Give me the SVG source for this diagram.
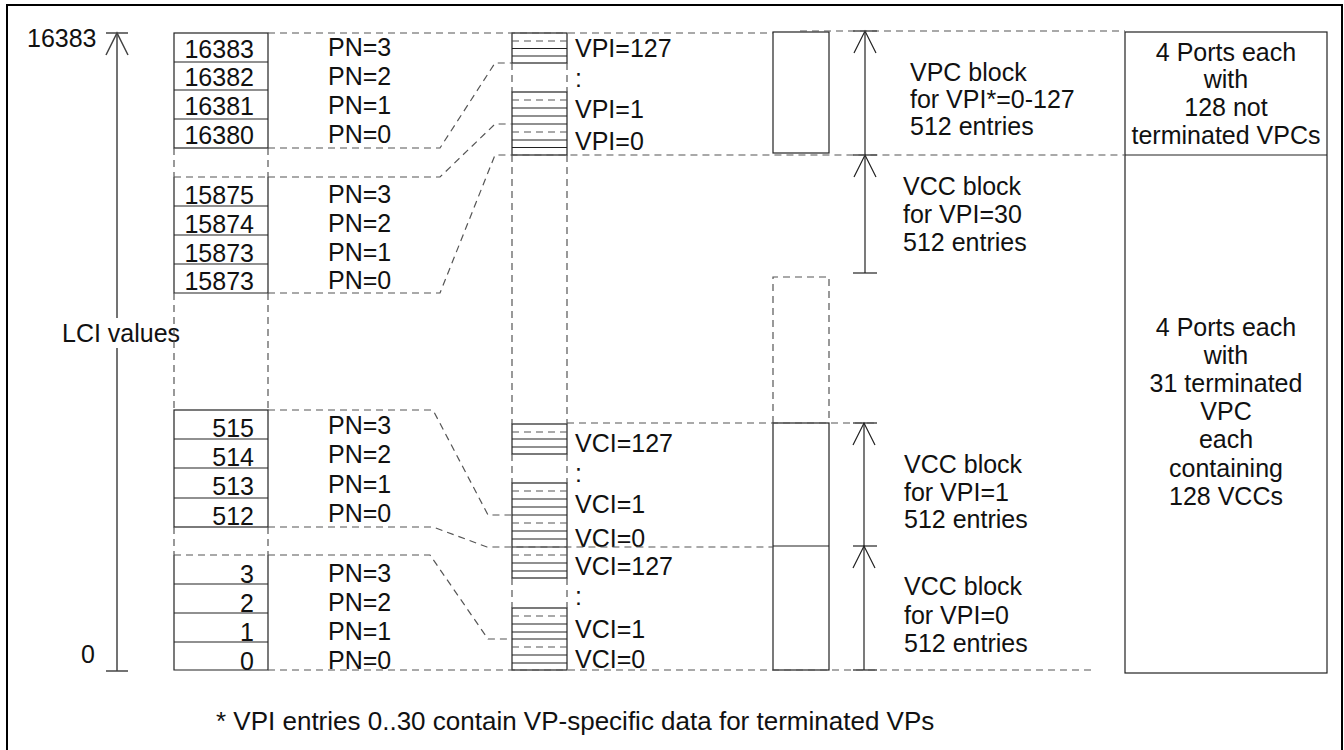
<svg xmlns="http://www.w3.org/2000/svg" width="1344" height="750" viewBox="0 0 1344 750">
<style>
text{font-family:"Liberation Sans",Arial,sans-serif;font-size:25px;fill:#111}
.s{stroke:#222;stroke-width:1.2;fill:none}
.d{stroke:#555;stroke-width:1.2;fill:none;stroke-dasharray:7 5}
.ax{stroke:#444;stroke-width:1.5;fill:none}
.e{text-anchor:end}
.m{text-anchor:middle}
</style>
<rect x="7" y="5" width="1335" height="770" fill="#fff" stroke="#000" stroke-width="2"/>

<g id="axis">
<line class="ax" x1="117" y1="33" x2="117" y2="671"/>
<polyline class="ax" points="106,55 117,33 128,55"/>
<line class="ax" x1="106" y1="33" x2="128" y2="33"/>
<line class="ax" x1="106" y1="671" x2="128" y2="671"/>
<text x="27" y="47">16383</text>
<text x="81" y="663">0</text>
<rect x="60" y="318" width="122" height="30" fill="#fff"/>
<text x="62" y="342">LCI values</text>
</g>

<g id="block-16380">
<rect class="s" x="174" y="33" width="94" height="115"/>
<line class="s" x1="174" y1="62" x2="268" y2="62"/>
<line class="s" x1="174" y1="90" x2="268" y2="90"/>
<line class="s" x1="174" y1="119" x2="268" y2="119"/>
<text class="e" x="254" y="58">16383</text>
<text class="e" x="254" y="86">16382</text>
<text class="e" x="254" y="115">16381</text>
<text class="e" x="254" y="144">16380</text>
<text x="328" y="56">PN=3</text>
<text x="328" y="85">PN=2</text>
<text x="328" y="114">PN=1</text>
<text x="328" y="143">PN=0</text>
</g>

<g id="block-15872">
<polyline class="s" points="174,177 174,293 268,293 268,177"/>
<line class="d" x1="174" y1="177" x2="268" y2="177"/>
<line class="s" x1="174" y1="206" x2="268" y2="206"/>
<line class="s" x1="174" y1="235" x2="268" y2="235"/>
<line class="s" x1="174" y1="264" x2="268" y2="264"/>
<text class="e" x="254" y="204">15875</text>
<text class="e" x="254" y="233">15874</text>
<text class="e" x="254" y="262">15873</text>
<text class="e" x="254" y="290">15873</text>
<text x="328" y="203">PN=3</text>
<text x="328" y="232">PN=2</text>
<text x="328" y="261">PN=1</text>
<text x="328" y="289">PN=0</text>
</g>

<g id="block-512">
<rect class="s" x="174" y="410" width="94" height="117"/>
<line class="s" x1="174" y1="439" x2="268" y2="439"/>
<line class="s" x1="174" y1="468" x2="268" y2="468"/>
<line class="s" x1="174" y1="498" x2="268" y2="498"/>
<text class="e" x="254" y="437">515</text>
<text class="e" x="254" y="466">514</text>
<text class="e" x="254" y="495">513</text>
<text class="e" x="254" y="525">512</text>
<text x="328" y="434">PN=3</text>
<text x="328" y="463">PN=2</text>
<text x="328" y="493">PN=1</text>
<text x="328" y="522">PN=0</text>
</g>

<g id="block-0">
<polyline class="s" points="174,555 174,670 268,670 268,555"/>
<line class="d" x1="174" y1="555" x2="268" y2="555"/>
<line class="s" x1="174" y1="584" x2="268" y2="584"/>
<line class="s" x1="174" y1="613" x2="268" y2="613"/>
<line class="s" x1="174" y1="642" x2="268" y2="642"/>
<text class="e" x="254" y="583">3</text>
<text class="e" x="254" y="612">2</text>
<text class="e" x="254" y="641">1</text>
<text class="e" x="254" y="670">0</text>
<text x="328" y="582">PN=3</text>
<text x="328" y="611">PN=2</text>
<text x="328" y="640">PN=1</text>
<text x="328" y="669">PN=0</text>
</g>

<g id="vpi-table">
<rect class="s" x="512" y="33" width="55" height="30"/>
<line class="d" x1="512" y1="41" x2="567" y2="41"/>
<line class="s" x1="512" y1="48.5" x2="567" y2="48.5"/>
<line class="s" x1="512" y1="56" x2="567" y2="56"/>
<rect class="s" x="512" y="92" width="55" height="63"/>
<line class="d" x1="512" y1="100" x2="567" y2="100"/>
<line class="s" x1="512" y1="108" x2="567" y2="108"/>
<line class="s" x1="512" y1="116" x2="567" y2="116"/>
<line class="s" x1="512" y1="124" x2="567" y2="124"/>
<line class="d" x1="512" y1="132" x2="567" y2="132"/>
<line class="s" x1="512" y1="140" x2="567" y2="140"/>
<line class="s" x1="512" y1="147.5" x2="567" y2="147.5"/>
<text x="575" y="57">VPI=127</text>
<text x="575" y="87">:</text>
<text x="575" y="118">VPI=1</text>
<text x="575" y="150">VPI=0</text>
</g>

<g id="vci-table">
<rect class="s" x="512" y="424" width="55" height="30"/>
<line class="d" x1="512" y1="432" x2="567" y2="432"/>
<line class="s" x1="512" y1="439" x2="567" y2="439"/>
<line class="s" x1="512" y1="447" x2="567" y2="447"/>
<rect class="s" x="512" y="483" width="55" height="95"/>
<line class="d" x1="512" y1="491" x2="567" y2="491"/>
<line class="s" x1="512" y1="499" x2="567" y2="499"/>
<line class="s" x1="512" y1="507" x2="567" y2="507"/>
<line class="s" x1="512" y1="515" x2="567" y2="515"/>
<line class="d" x1="512" y1="523" x2="567" y2="523"/>
<line class="s" x1="512" y1="531" x2="567" y2="531"/>
<line class="s" x1="512" y1="539" x2="567" y2="539"/>
<line class="s" x1="512" y1="547" x2="567" y2="547"/>
<line class="d" x1="512" y1="555" x2="567" y2="555"/>
<line class="s" x1="512" y1="563" x2="567" y2="563"/>
<line class="s" x1="512" y1="571" x2="567" y2="571"/>
<rect class="s" x="512" y="608" width="55" height="62"/>
<line class="d" x1="512" y1="616" x2="567" y2="616"/>
<line class="s" x1="512" y1="624" x2="567" y2="624"/>
<line class="s" x1="512" y1="632" x2="567" y2="632"/>
<line class="s" x1="512" y1="639" x2="567" y2="639"/>
<line class="d" x1="512" y1="647" x2="567" y2="647"/>
<line class="s" x1="512" y1="655" x2="567" y2="655"/>
<line class="s" x1="512" y1="663" x2="567" y2="663"/>
<text x="575" y="452">VCI=127</text>
<text x="575" y="482">:</text>
<text x="575" y="513">VCI=1</text>
<text x="575" y="547">VCI=0</text>
<text x="575" y="575">VCI=127</text>
<text x="575" y="605">:</text>
<text x="575" y="638">VCI=1</text>
<text x="575" y="668">VCI=0</text>
</g>

<g id="memory-blocks">
<rect class="s" x="773" y="32" width="56" height="121"/>
<polyline class="d" points="773,423 773,277 829,277 829,423"/>
<rect class="s" x="773" y="423" width="56" height="247"/>
<line class="s" x1="773" y1="546" x2="829" y2="546"/>
</g>

<g id="vpc-block-label">
<text x="910" y="81">VPC block</text>
<text x="910" y="108">for VPI*=0-127</text>
<text x="910" y="135">512 entries</text>
</g>
<g id="vcc30-label">
<text x="903" y="195">VCC block</text>
<text x="903" y="223">for VPI=30</text>
<text x="903" y="251">512 entries</text>
</g>
<g id="vcc1-label">
<text x="904" y="473">VCC block</text>
<text x="904" y="501">for VPI=1</text>
<text x="904" y="528">512 entries</text>
</g>
<g id="vcc0-label">
<text x="904" y="595">VCC block</text>
<text x="904" y="624">for VPI=0</text>
<text x="904" y="652">512 entries</text>
</g>

<g id="ports-box">
<rect class="s" x="1125" y="32" width="202" height="641"/>
<line class="s" x1="1125" y1="155" x2="1327" y2="155"/>
<text class="m" x="1226" y="61">4 Ports each</text>
<text class="m" x="1226" y="88">with</text>
<text class="m" x="1226" y="116">128 not</text>
<text class="m" x="1226" y="144">terminated VPCs</text>
<text class="m" x="1226" y="336">4 Ports each</text>
<text class="m" x="1226" y="364">with</text>
<text class="m" x="1226" y="392">31 terminated</text>
<text class="m" x="1226" y="420">VPC</text>
<text class="m" x="1226" y="448">each</text>
<text class="m" x="1226" y="477">containing</text>
<text class="m" x="1226" y="505">128 VCCs</text>
</g>

<g id="dimension-arrows">
<line class="s" x1="865" y1="31" x2="865" y2="155"/>
<polyline class="s" points="854,53 865,31 876,53"/>
<line class="s" x1="865" y1="155" x2="865" y2="273"/>
<polyline class="s" points="854,177 865,155 876,177"/>
<line class="s" x1="864" y1="423" x2="864" y2="546"/>
<polyline class="s" points="853,445 864,423 875,445"/>
<line class="s" x1="864" y1="546" x2="864" y2="670"/>
<polyline class="s" points="853,568 864,546 875,568"/>
<line class="s" x1="853" y1="31" x2="877" y2="31"/>
<line class="s" x1="853" y1="155" x2="877" y2="155"/>
<line class="s" x1="853" y1="273" x2="877" y2="273"/>
<line class="s" x1="853" y1="423" x2="877" y2="423"/>
<line class="s" x1="853" y1="546" x2="877" y2="546"/>
<line class="s" x1="853" y1="670" x2="877" y2="670"/>
</g>

<g id="connectors">
<line class="d" x1="268" y1="33" x2="773" y2="33"/>
<line class="d" x1="800" y1="31" x2="1125" y2="31"/>
<polyline class="d" points="268,148 440,148 495,63 512,63"/>
<polyline class="d" points="268,177 440,177 495,124 512,124"/>
<polyline class="d" points="268,293 440,293 495,155 1125,155"/>
<polyline class="d" points="268,410 433,410 488,515 512,515"/>
<polyline class="d" points="268,527 433,527 487,547 773,547"/>
<polyline class="d" points="268,555 430,555 488,639 512,639"/>
<line class="d" x1="268" y1="670" x2="1092" y2="670"/>
<line class="d" x1="567" y1="423" x2="877" y2="423"/>
<line class="d" x1="174" y1="148" x2="174" y2="177"/>
<line class="d" x1="268" y1="148" x2="268" y2="177"/>
<line class="d" x1="174" y1="293" x2="174" y2="410"/>
<line class="d" x1="268" y1="293" x2="268" y2="410"/>
<line class="d" x1="174" y1="527" x2="174" y2="555"/>
<line class="d" x1="268" y1="527" x2="268" y2="555"/>
<line class="d" x1="512" y1="63" x2="512" y2="92"/>
<line class="d" x1="567" y1="63" x2="567" y2="92"/>
<line class="d" x1="512" y1="155" x2="512" y2="424"/>
<line class="d" x1="567" y1="155" x2="567" y2="424"/>
<line class="d" x1="512" y1="454" x2="512" y2="483"/>
<line class="d" x1="567" y1="454" x2="567" y2="483"/>
<line class="d" x1="512" y1="578" x2="512" y2="608"/>
<line class="d" x1="567" y1="578" x2="567" y2="608"/>
</g>

<g id="footnote">
<text x="216" y="730" style="font-size:26px">* VPI entries 0..30 contain VP-specific data for terminated VPs</text>
</g>
</svg>
